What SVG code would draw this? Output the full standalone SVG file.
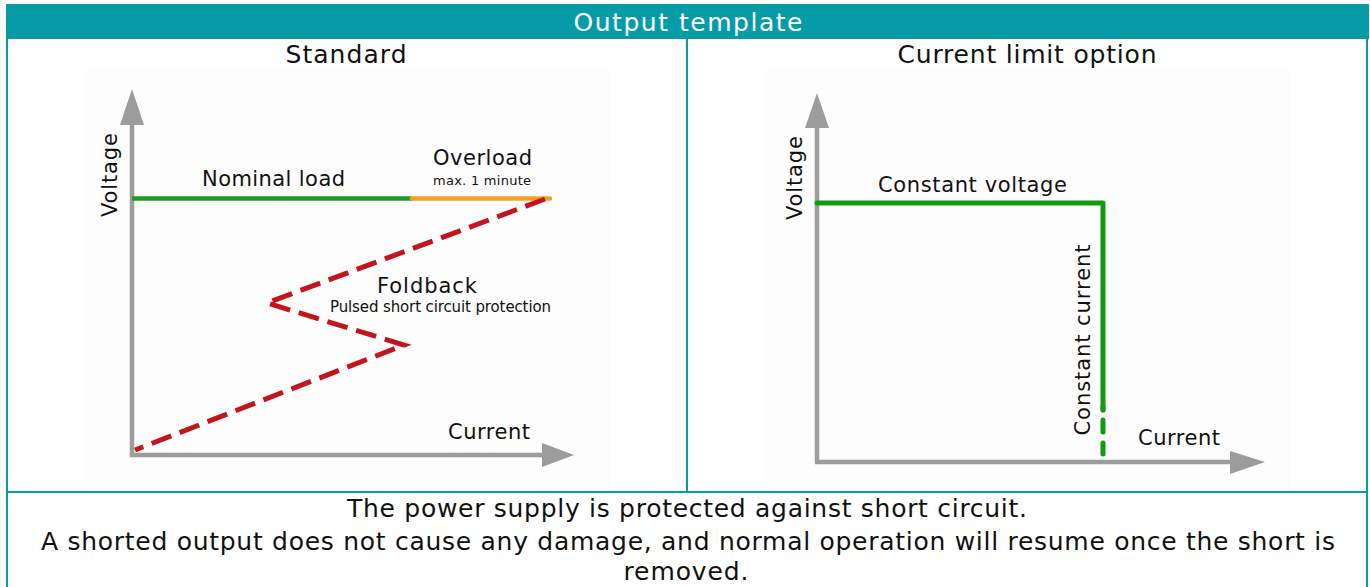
<svg xmlns="http://www.w3.org/2000/svg" width="1370" height="587" viewBox="0 0 1370 587">
<defs>
<style>
.t{font-family:"DejaVu Sans","Liberation Sans",sans-serif;fill:#111}
.h{font-family:"DejaVu Sans","Liberation Sans",sans-serif;fill:#fff}
.ax{stroke:#9c9c9c;stroke-width:4.5;fill:none}
.ah{fill:#9c9c9c}
.bd{stroke:#069ca7;stroke-width:2;fill:none}
.red{stroke:#c3161c;stroke-width:5;fill:none;stroke-dasharray:21 9;stroke-linejoin:miter}
.grn{stroke:#139a13;stroke-width:5;fill:none;stroke-linecap:round}
</style>
</defs>
<rect x="0" y="0" width="1370" height="587" fill="#fff"/>
<g id="table">
<rect x="6" y="4" width="1363" height="35" fill="#069ca7"/>
<rect x="83" y="70" width="527" height="421" fill="#fdfdfd"/>
<rect x="765" y="70" width="525" height="421" fill="#fdfdfd"/>
<line class="bd" x1="7" y1="39" x2="7" y2="587"/>
<line class="bd" x1="1367" y1="39" x2="1367" y2="587"/>
<line class="bd" x1="687" y1="39" x2="687" y2="492"/>
<line class="bd" x1="7" y1="492" x2="1367" y2="492"/>
<text class="h" x="688" y="31" font-size="25" text-anchor="middle" textLength="229" lengthAdjust="spacing">Output template</text>
<text class="t" x="346" y="63" font-size="25" text-anchor="middle" textLength="121" lengthAdjust="spacing">Standard</text>
<text class="t" x="1027" y="63" font-size="25" text-anchor="middle" textLength="259" lengthAdjust="spacing">Current limit option</text>
</g>
<g id="chart-standard">
<line class="ax" x1="132" y1="456" x2="132" y2="122"/>
<polygon class="ah" points="132,89 144,125 120,125"/>
<line class="ax" x1="130" y1="455" x2="545" y2="455"/>
<polygon class="ah" points="574,455 542,443 542,467"/>
<line x1="132" y1="198.5" x2="412" y2="198.5" stroke="#229b22" stroke-width="4.5"/>
<line x1="412" y1="198.5" x2="550" y2="198.5" stroke="#f6a11c" stroke-width="4.5" stroke-linecap="round"/>
<polyline class="red" points="545,199 267,303 404,345 135,450"/>
<text class="t" x="0" y="0" font-size="21" text-anchor="middle" transform="translate(117,175) rotate(-90)" textLength="84" lengthAdjust="spacing">Voltage</text>
<text class="t" x="202" y="186" font-size="21" textLength="143" lengthAdjust="spacing">Nominal load</text>
<text class="t" x="433" y="165" font-size="21" textLength="99" lengthAdjust="spacing">Overload</text>
<text class="t" x="433" y="185" font-size="13" textLength="98" lengthAdjust="spacing">max. 1 minute</text>
<text class="t" x="377" y="293" font-size="21" textLength="100" lengthAdjust="spacing">Foldback</text>
<text class="t" x="330" y="312" font-size="15" textLength="221" lengthAdjust="spacing">Pulsed short circuit protection</text>
<text class="t" x="448" y="439" font-size="21" textLength="82" lengthAdjust="spacing">Current</text>
</g>
<g id="chart-current-limit">
<line class="ax" x1="817" y1="463" x2="817" y2="124"/>
<polygon class="ah" points="817,93 829,128 805,128"/>
<line class="ax" x1="815" y1="462" x2="1233" y2="462"/>
<polygon class="ah" points="1265,462 1230,451 1230,474"/>
<polyline class="grn" points="817,203 1103,203 1103,410" stroke-linecap="butt" stroke-linejoin="round"/>
<line class="grn" x1="1103" y1="407" x2="1103" y2="410"/>
<line class="grn" x1="1103" y1="420" x2="1103" y2="432"/>
<line class="grn" x1="1103" y1="443" x2="1103" y2="454"/>
<text class="t" x="0" y="0" font-size="21" text-anchor="middle" transform="translate(1090,340) rotate(-90)" textLength="191" lengthAdjust="spacing">Constant current</text>
<text class="t" x="0" y="0" font-size="21" text-anchor="middle" transform="translate(802,178) rotate(-90)" textLength="84" lengthAdjust="spacing">Voltage</text>
<text class="t" x="878" y="192" font-size="21" textLength="189" lengthAdjust="spacing">Constant voltage</text>
<text class="t" x="1138" y="445" font-size="21" textLength="82" lengthAdjust="spacing">Current</text>
</g>
<g id="note">
<text class="t" x="687" y="517" font-size="25" text-anchor="middle" textLength="680" lengthAdjust="spacing">The power supply is protected against short circuit.</text>
<text class="t" x="688" y="550" font-size="25" text-anchor="middle" textLength="1294" lengthAdjust="spacing">A shorted output does not cause any damage, and normal operation will resume once the short is</text>
<text class="t" x="686" y="580" font-size="25" text-anchor="middle" textLength="125" lengthAdjust="spacing">removed.</text>
</g>
<g id="connectors"></g>
</svg>
